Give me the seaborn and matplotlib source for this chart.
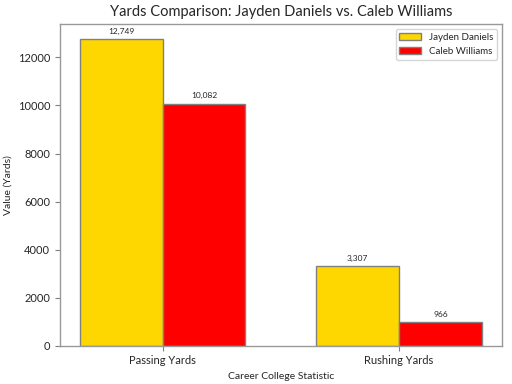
import matplotlib
matplotlib.use("Agg")
import matplotlib.pyplot as plt
import seaborn as sns
import pandas as pd

categories = ["Passing Yards", "Rushing Yards"]
players = ["Jayden Daniels", "Caleb Williams"]
jayden_values = [12749, 3307]
caleb_values = [10082, 966]
colors = ["#FFD700", "#FF0000"]

rows = []
for i, c in enumerate(categories):
    rows.append({"Statistic": c, "Player": players[0], "Value": jayden_values[i]})
    rows.append({"Statistic": c, "Player": players[1], "Value": caleb_values[i]})
df = pd.DataFrame(rows)

sns.set_style("white")
plt.rcParams["font.family"] = ["Lato", "DejaVu Sans"]

fig, ax = plt.subplots(figsize=(5.12, 3.84), dpi=100)
sns.barplot(data=df, x="Statistic", y="Value", hue="Player", palette=colors,
            width=0.7, edgecolor="gray", linewidth=1, saturation=1, ax=ax, errorbar=None)

for cont in ax.containers:
    ax.bar_label(cont, labels=[f"{v.get_height():,.0f}" for v in cont], padding=3, fontsize=6)

ax.set_xlim(-0.435, 1.435)
ax.set_ylim(0, 13386)
ax.set_title("Yards Comparison: Jayden Daniels vs. Caleb Williams", fontsize=10.5)
ax.set_xlabel("Career College Statistic", fontsize=7.5)
ax.set_ylabel("Value (Yards)", fontsize=7.5)
ax.tick_params(axis="both", labelsize=8, length=3.5, color="gray", bottom=True, left=True)
for s in ax.spines.values():
    s.set_color("#999999")
    s.set_linewidth(1)
leg = ax.legend(fontsize=7, loc="upper right", handlelength=2.2)
leg.get_frame().set_edgecolor("#cccccc")

fig.subplots_adjust(left=0.117, right=0.98, top=0.937, bottom=0.10)
fig.savefig("out.png", dpi=100)
